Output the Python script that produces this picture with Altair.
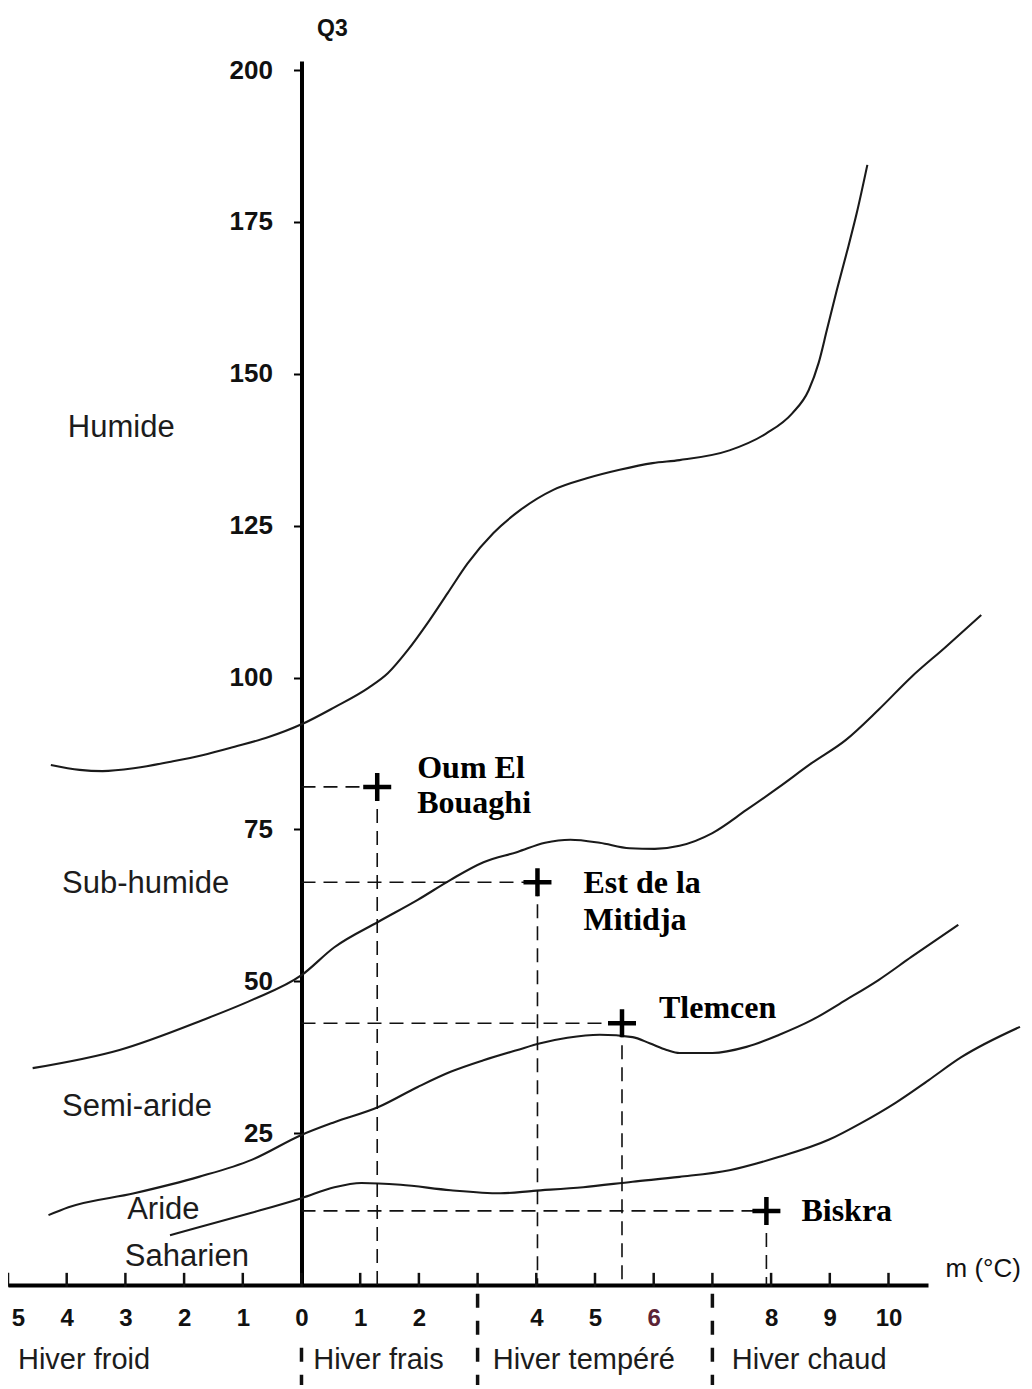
import altair as alt
import pandas as pd

# ---------------- data ----------------
c1_m = [-4.27, -3.78, -3.39, -2.83, -2.25, -1.69, -1.14, -0.56, 0.0, 0.56, 1.14, 1.47, 1.81, 2.15, 2.49,
        2.83, 3.27, 3.73, 4.29, 4.86, 5.42, 5.98, 6.44, 7.29, 7.92, 8.36, 8.64, 8.81, 8.95, 9.12, 9.29, 9.46, 9.64]
c1_q = [85.6, 84.8, 84.6, 85.1, 86.1, 87.2, 88.6, 90.2, 92.3, 95.1, 98.3, 100.7, 104.5, 109.0, 113.9,
        118.8, 123.8, 127.6, 130.9, 132.8, 134.2, 135.3, 135.8, 137.4, 140.2, 143.5, 147.3, 151.8, 157.2, 163.8, 170.0, 176.5, 184.4]

c2_m = [-4.58, -3.10, -1.69, -0.85, 0.0, 0.56, 1.31, 1.98, 2.54, 3.10, 3.68, 4.15, 4.58, 5.08, 5.59, 6.02,
        6.44, 7.0, 7.58, 8.14, 8.69, 9.27, 9.83, 10.39, 10.97, 11.58]
c2_q = [35.7, 38.7, 43.6, 46.9, 51.0, 55.6, 59.8, 63.4, 66.7, 69.6, 71.3, 72.8, 73.3, 72.8, 71.9, 71.8,
        72.3, 74.4, 78.2, 82.0, 85.9, 89.7, 94.7, 100.1, 105.0, 110.3]

c3_m = [-4.31, -3.97, -2.85, -1.75, -0.85, 0.0, 0.56, 1.31, 1.98, 2.54, 3.10, 3.68, 4.07, 4.53, 5.08, 5.64,
        5.93, 6.22, 6.44, 7.0, 7.58, 8.14, 8.69, 9.27, 9.83, 10.39, 11.19]
c3_q = [11.5, 12.8, 15.1, 17.8, 20.6, 24.7, 26.8, 29.3, 32.6, 35.1, 37.0, 38.7, 39.8, 40.7, 41.2, 40.8,
        39.8, 38.7, 38.2, 38.2, 39.2, 41.2, 43.6, 46.9, 50.2, 54.0, 59.3]

c4_m = [-2.24, -1.75, -0.85, 0.0, 0.56, 1.02, 1.69, 2.54, 3.39, 3.95, 4.80, 5.64, 6.44, 7.29, 8.14, 8.98,
        9.54, 10.12, 10.68, 11.24, 12.24]
c4_q = [8.2, 9.5, 11.9, 14.3, 16.1, 16.8, 16.5, 15.6, 15.1, 15.5, 16.1, 17.0, 17.8, 18.9, 21.1, 23.9,
        26.7, 30.0, 33.7, 37.5, 42.5]

station_names = ["Oum El Bouaghi", "Est de la Mitidja", "Tlemcen", "Biskra"]
station_labels = ["Oum El\nBouaghi", "Est de la\nMitidja", "Tlemcen", "Biskra"]
station_m = [1.29, 4.02, 5.46, 7.92]
station_q = [82.0, 66.3, 43.1, 12.2]

zone_names = ["Humide", "Sub-humide", "Semi-aride", "Aride", "Saharien"]
zone_m = [-3.98, -4.08, -4.08, -2.97, -3.01]
zone_q = [141.1, 66.0, 29.3, 12.3, 4.6]

winter_names = ["Hiver froid", "Hiver frais", "Hiver tempéré", "Hiver chaud"]
winter_m = [-4.83, 0.20, 3.26, 7.33]
winter_q = [-12.3, -12.3, -12.3, -12.3]

winter_bounds = [0, 3, 7]
winter_bound_top = [-10.2, -0.3, -0.3]
winter_bound_bottom = [-17.1, -17.1, -17.1]
x_ticks = list(range(-5, 11))
y_ticks = [25, 50, 75, 100, 125, 150, 175, 200]

# ---------------- layout ----------------
X_MIN, X_MAX = -5.0, 10.673
Y_MIN, Y_MAX = 0, 201.5
W, H = 920, 1224
y_axis_offset = -(0 - X_MIN) * W / (X_MAX - X_MIN)

SANS = "Liberation Sans, Arial, sans-serif"
NARROW = "Liberation Sans Narrow, Liberation Sans, Arial, sans-serif"
SERIF = "Liberation Serif, Times New Roman, serif"

xscale = alt.Scale(domain=[X_MIN, X_MAX], nice=False, zero=False)
yscale = alt.Scale(domain=[Y_MIN, Y_MAX], nice=False, zero=False)

xaxis = alt.Axis(
    values=x_ticks,
    labelExpr="datum.value == 3 || datum.value == 7 ? '' : '' + abs(datum.value)",
    ticks=False, tickSize=0, grid=False,
    domainColor="black", domainWidth=4,
    labelFont=NARROW, labelFontSize=24, labelFontWeight="bold",
    labelColor={"condition": {"test": "datum.value == 6", "value": "#5c2436"}, "value": "#111111"},
    labelOffset={"condition": {"test": "datum.value == -5", "value": 10}, "value": 0},
    labelPadding=33, labelBaseline="middle", labelFlush=False, labelOverlap=False,
    title="m (°C)", titleFont=SANS, titleFontSize=26, titleFontWeight="normal", titleColor="#111111",
    titleX=937, titleY=-17, titleAlign="left", titleBaseline="middle", titleAngle=0,
)
yaxis = alt.Axis(
    values=y_ticks, grid=False, offset=y_axis_offset,
    domainColor="black", domainWidth=4,
    ticks=True, tickSize=8, tickWidth=2, tickColor="black",
    labelFont=SANS, labelFontSize=26, labelFontWeight="bold", labelColor="#111111",
    labelPadding=21, labelBaseline="middle", labelFlush=False, labelOverlap=False,
    title="Q3", titleFont=SANS, titleFontSize=23, titleFontWeight="bold", titleColor="#111111",
    titleAngle=0, titleX=15, titleY=-33, titleAlign="left", titleBaseline="middle",
)


def X(field):
    return alt.X(field, type="quantitative", scale=xscale, axis=xaxis)


def Y(field):
    return alt.Y(field, type="quantitative", scale=yscale, axis=yaxis)


# curves
rows = []
for cid, (ms, qs) in enumerate([(c1_m, c1_q), (c2_m, c2_q), (c3_m, c3_q), (c4_m, c4_q)]):
    for i, (a, b) in enumerate(zip(ms, qs)):
        rows.append({"curve": cid, "order": i, "m": a, "q": b})
curves_df = pd.DataFrame(rows)

curves = alt.Chart(curves_df).mark_line(
    interpolate="monotone", color="#1a1a1a", strokeWidth=2.1
).encode(x=X("m"), y=Y("q"), detail="curve:N", order="order:Q")

stations_df = pd.DataFrame({
    "name": station_names, "label": station_labels,
    "m": station_m, "q": station_q, "m0": [0.0] * 4, "q0": [0.0] * 4,
})

h_guides = alt.Chart(stations_df).mark_rule(
    color="#111111", strokeWidth=1.6, strokeDash=[14, 8]
).encode(x=X("m0"), x2="m", y=Y("q"))

v_guides = alt.Chart(stations_df).mark_rule(
    color="#111111", strokeWidth=1.6, strokeDash=[14, 8]
).encode(x=X("m"), y=Y("q"), y2="q0")

markers = alt.Chart(stations_df).mark_point(
    shape="M-1,0L1,0M0,-1L0,1", size=784, strokeWidth=4.5, color="black", filled=False, opacity=1
).encode(x=X("m"), y=Y("q"))

label_style = {
    "Oum El Bouaghi": (40, -9, 35),
    "Est de la Mitidja": (46, 11, 37),
    "Tlemcen": (37, -5, 35),
    "Biskra": (35, 10, 35),
}
station_texts = []
for name, (dx, dy, lh) in label_style.items():
    station_texts.append(
        alt.Chart(stations_df).transform_filter(alt.datum.name == name).mark_text(
            align="left", baseline="alphabetic", dx=dx, dy=dy, lineBreak="\n", lineHeight=lh,
            font=SERIF, fontSize=32, fontWeight="bold", color="black"
        ).encode(x=X("m"), y=Y("q"), text="label:N")
    )

zones_df = pd.DataFrame({"name": zone_names, "m": zone_m, "q": zone_q})
zones = alt.Chart(zones_df).mark_text(
    align="left", baseline="middle", font=SANS, fontSize=31, color="#1c1c1c"
).encode(x=X("m"), y=Y("q"), text="name:N")

winter_df = pd.DataFrame({"name": winter_names, "m": winter_m, "q": winter_q})
winters = alt.Chart(winter_df).mark_text(
    align="left", baseline="middle", font=SANS, fontSize=29, color="#1c1c1c"
).encode(x=X("m"), y=Y("q"), text="name:N")

bounds_df = pd.DataFrame({"m": winter_bounds, "q": winter_bound_bottom, "q2": winter_bound_top})
bounds = alt.Chart(bounds_df).mark_rule(
    color="#111111", strokeWidth=3.5, strokeDash=[14, 13]
).encode(x=X("m"), y=Y("q"), y2="q2")

ticks_df = pd.DataFrame({"m": x_ticks, "q": [-0.3] * len(x_ticks), "q2": [2.0] * len(x_ticks)})
xticks = alt.Chart(ticks_df).mark_rule(color="#111111", strokeWidth=2.5).encode(
    x=X("m"), y=Y("q"), y2="q2"
)

chart = alt.layer(
    curves, h_guides, v_guides, bounds, xticks, markers, zones, winters, *station_texts
).properties(
    width=W, height=H,
    autosize=alt.AutoSizeParams(type="none"),
    padding={"left": 0, "top": 53, "right": 96, "bottom": 100},
    background="white",
).configure_view(strokeWidth=0)

chart.save("out.html", embed_options={"renderer": "svg", "actions": False})
